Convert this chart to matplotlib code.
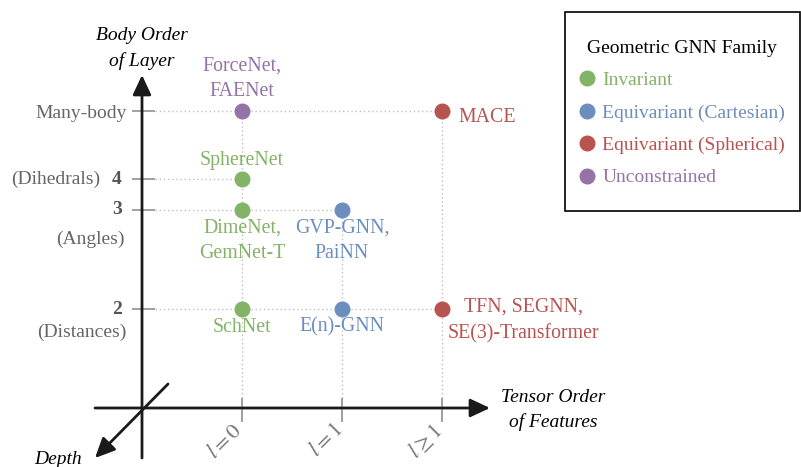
import matplotlib.pyplot as plt
from matplotlib.lines import Line2D
from matplotlib.patches import Rectangle

plt.rcParams['font.family'] = ['Liberation Serif', 'DejaVu Serif']
plt.rcParams['mathtext.fontset'] = 'stix'

# families of geometric GNNs
families = ['Invariant', 'Equivariant (Cartesian)', 'Equivariant (Spherical)', 'Unconstrained']
family_colors = ['#82b366', '#6c8ebf', '#b85450', '#9673a6']

# x axis: tensor order of features
tensor_ticks = [r'$l = 0$', r'$l = 1$', r'$l \geq 1$']
tensor_pos = [1, 2, 3]

# y axis: body order of layer (positions are not evenly spaced in the figure)
body_levels = ['2', '3', '4', 'Many-body']
body_notes = ['(Distances)', '(Angles)', '(Dihedrals)', '']
body_pos = [2, 3, 3.31, 4]

# models
model_names = ['ForceNet,\nFAENet', 'MACE', 'SphereNet', 'DimeNet,\nGemNet-T',
               'GVP-GNN,\nPaiNN', 'SchNet', 'E(n)-GNN', 'TFN, SEGNN,\nSE(3)-Transformer']
model_tensor = [0, 2, 0, 0, 1, 0, 1, 2]
model_body = [3, 3, 2, 1, 1, 0, 0, 0]
model_family = [3, 2, 0, 0, 1, 0, 1, 2]

# label placement (pixels dx, dy down, ha)
label_place = [(0, -32, 'center'), (16, 6, 'left'), (0, -19, 'center'), (0, 31, 'center'),
               (0, 31, 'center'), (0, 18, 'center'), (0, 18, 'center'), (6, 11.5, 'left')]
note_place = [(-15, 23), (-17, 29), (-42, 0), (0, 0)]

P = 0.72  # points per pixel at dpi 100


def px(x):
    return (x - 142) / 100


def py(y):
    return 1 + (408 - y) / 99


fig = plt.figure(figsize=(8.01, 4.67), dpi=100)
ax = fig.add_axes([0, 0, 1, 1])
ax.set_xlim(px(0), px(801))
ax.set_ylim(py(467), py(0))
ax.axis('off')

grid_kw = dict(color='#c0c0c0', lw=1, linestyles=(0, (1, 2)), zorder=1)

# dotted guides from axes to each model
for i, yv in enumerate(body_pos):
    xs = [tensor_pos[model_tensor[k]] for k in range(len(model_names)) if model_body[k] == i]
    ax.hlines(yv, px(155), max(xs), **grid_kw)
    ax.hlines(yv, px(132), px(155), color='#999999', lw=1.3, zorder=2)
for j, xv in enumerate(tensor_pos):
    ys = [body_pos[model_body[k]] for k in range(len(model_names)) if model_tensor[k] == j]
    ax.vlines(xv, py(398), max(ys), **grid_kw)
    ax.vlines(xv, py(422), py(398), color='#999999', lw=1.3, zorder=2)

# axes with arrows
arrow_kw = dict(arrowstyle='-|>,head_length=0.6,head_width=0.28', mutation_scale=20,
                color='#1a1a1a', lw=2, shrinkA=0, shrinkB=0)
ax.annotate('', xy=(0, py(75)), xytext=(0, py(458)), arrowprops=arrow_kw)
ax.annotate('', xy=(px(490), 1), xytext=(px(95), 1), arrowprops=arrow_kw)
ax.annotate('', xy=(px(95), py(458)), xytext=(px(168), py(384)), arrowprops=arrow_kw)

ax.text(0, py(48.5), 'Body Order\nof Layer', ha='center', va='center', fontsize=14,
        style='italic', linespacing=1.6)
ax.text(px(553), py(410), 'Tensor Order\nof Features', ha='center', va='center', fontsize=14,
        style='italic', linespacing=1.5)
ax.text(px(58), py(460), 'Depth', ha='center', va='center', fontsize=14, style='italic')

# y tick labels
for i, yv in enumerate(body_pos):
    if body_levels[i].isdigit():
        ax.annotate(body_levels[i], (0, yv), xytext=(-20 * P, 0), textcoords='offset points',
                    ha='right', va='center', fontsize=14, fontweight='bold', color='#555555')
    else:
        ax.annotate(body_levels[i], (0, yv), xytext=(-15 * P, -2 * P), textcoords='offset points',
                    ha='right', va='center', fontsize=14, color='#666666')
    if body_notes[i]:
        dx, dy = note_place[i]
        ax.annotate(body_notes[i], (0, yv), xytext=(dx * P, -dy * P), textcoords='offset points',
                    ha='right', va='center', fontsize=14, color='#666666')

# x tick labels
for j, xv in enumerate(tensor_pos):
    ax.annotate(tensor_ticks[j], (xv, 1), xytext=(5 * P, -12 * P), textcoords='offset points',
                ha='right', va='top', rotation=45, fontsize=16, color='#777777')

# model points and names
for k, name in enumerate(model_names):
    xv = tensor_pos[model_tensor[k]]
    yv = body_pos[model_body[k]]
    c = family_colors[model_family[k]]
    ax.plot(xv, yv, 'o', ms=10.5, color=c, zorder=3)
    dx, dy, ha = label_place[k]
    ax.annotate(name, (xv, yv), xytext=(dx * P, -dy * P), textcoords='offset points',
                ha=ha, va='center', multialignment='center', fontsize=14.3, color=c,
                linespacing=1.5)

# legend (frame drawn separately to get the reference padding)
handles = [Line2D([], [], ls='none', marker='o', ms=10.5, color=c) for c in family_colors]
leg = ax.legend(handles, families, title='Geometric GNN Family', loc='center left',
                bbox_to_anchor=(579 / 801, 1 - 113 / 467), bbox_transform=fig.transFigure,
                frameon=False, prop={'size': 14}, title_fontsize=14, labelcolor=family_colors,
                handlelength=0.8, handletextpad=0.4, labelspacing=0.76, borderpad=0,
                borderaxespad=0)
fig.patches.append(Rectangle((565 / 801, 1 - 211 / 467), 235 / 801, 199 / 467,
                             transform=fig.transFigure, fill=False, edgecolor='black', lw=1.2))

plt.savefig('out.png', dpi=100)
